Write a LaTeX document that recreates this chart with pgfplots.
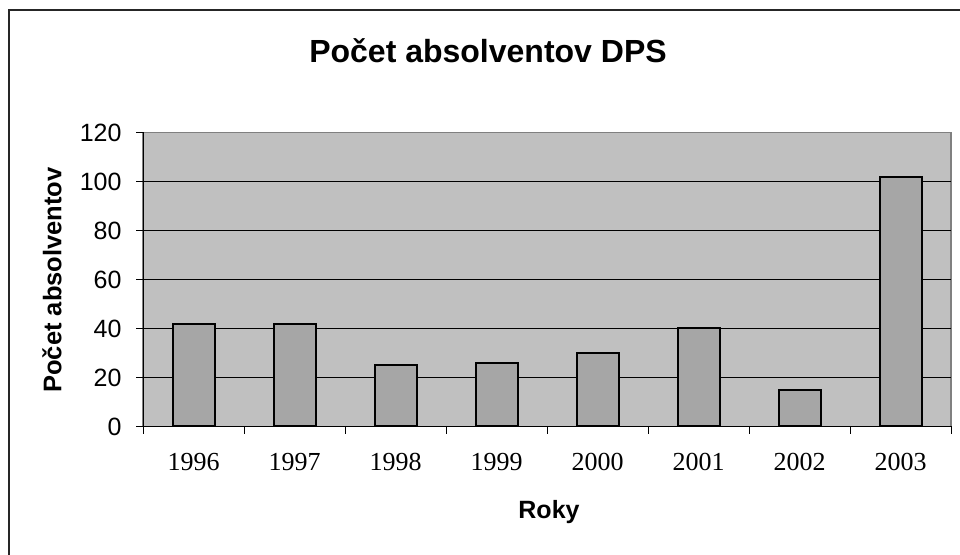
\documentclass[border=0pt]{standalone}
\usepackage{fontspec}
\setmainfont{Liberation Sans}
\newfontfamily\timesf{Liberation Serif}
\usepackage{pgfplots}
\pgfplotsset{compat=1.18}
\definecolor{plotbg}{RGB}{192,192,192}
\definecolor{barfill}{RGB}{166,166,166}
\definecolor{plotborder}{RGB}{128,128,128}
\begin{document}
\begin{tikzpicture}[x=1pt,y=1pt]
\useasboundingbox (0,0) rectangle (960,554);
\draw[line width=1.6pt,black!85] (9,-2) -- (9,544) -- (962,544);
\node[font=\fontsize{32}{36}\selectfont\bfseries] at (488,503) {Počet absolventov DPS};
\node[font=\fontsize{25.5}{30}\selectfont\bfseries,rotate=90] at (52,274) {Počet absolventov};
\node[font=\fontsize{25}{30}\selectfont\bfseries] at (549,42) {Roky};
\begin{axis}[
  at={(143pt,127.5pt)}, anchor=south west,
  scale only axis, width=808pt, height=294pt,
  xmin=-0.5, xmax=7.5, ymin=0, ymax=120,
  axis x line*=bottom, axis y line*=left,
  every outer x axis line/.append style={-, black, line width=0.9pt},
  every outer y axis line/.append style={-, black, line width=0.9pt},
  axis background/.style={fill=plotbg, draw=plotborder, line width=1.2pt},
  xtick={0,...,7},
  xticklabels={1996,1997,1998,1999,2000,2001,2002,2003},
  major x tick style={draw=none},
  minor xtick={-0.5,0.5,...,7.5},
  minor x tick style={black, line width=0.9pt},
  minor tick length=7pt,
  ytick={0,20,...,100},
  extra y ticks={120},
  extra y tick style={grid=none},
  major tick length=7pt,
  tick align=outside,
  y tick style={black, line width=0.9pt},
  ymajorgrids,
  grid style={black, line width=0.9pt},
  xticklabel style={font=\timesf\fontsize{26}{30}\selectfont, yshift=-16pt},
  yticklabel style={font=\fontsize{25}{30}\selectfont, xshift=-11pt},
  /pgf/number format/assume math mode=true,
  ybar, bar width=42pt,
]
\addplot[fill=barfill, draw=black, line width=2pt] coordinates {
  (0,42) (1,42) (2,25) (3,26) (4,30) (5,40) (6,15) (7,102)
};
\end{axis}
\end{tikzpicture}
\end{document}
